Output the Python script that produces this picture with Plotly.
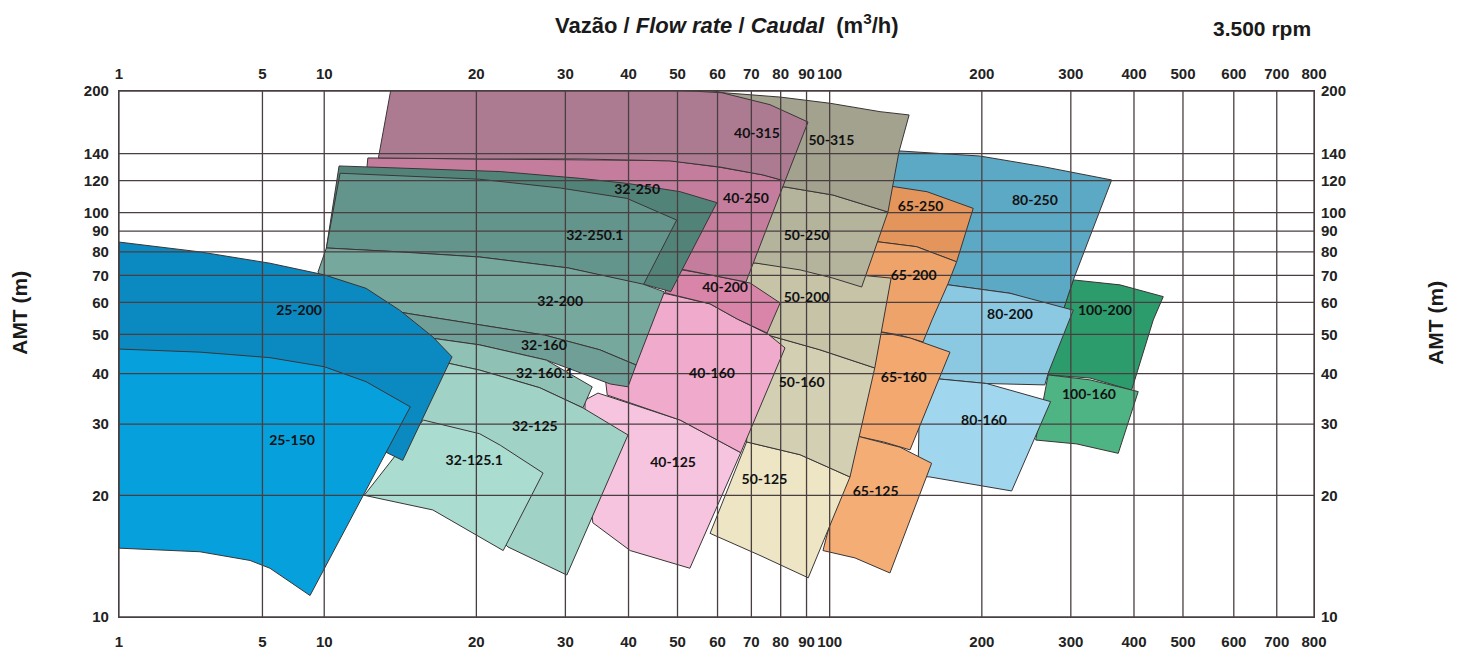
import numpy as np
import plotly.graph_objects as go

# ---------------- axis ticks ----------------
X_TICKS = [1, 5, 10, 20, 30, 40, 50, 60, 70, 80, 90, 100, 200, 300, 400, 500, 600, 700, 800]
Y_TICKS = [10, 20, 30, 40, 50, 60, 70, 80, 90, 100, 120, 140, 200]

# flow-rate scale of the chart: logarithmic, first decade compressed, top end stretched
WARP_BREAKS = [1, 10, 500, 800]
WARP_WEIGHTS = [0.406, 1.0, 1.27]


def warp(q):
    lq = np.log10(np.asarray(q, dtype=float))
    u = np.zeros_like(lq)
    for a, b, w in zip(WARP_BREAKS[:-1], WARP_BREAKS[1:], WARP_WEIGHTS):
        la, lb = np.log10(a), np.log10(b)
        u += w * (np.clip(lq, la, lb) - la)
    return u


# ---------------- pump coverage regions (flow m3/h, head m) ----------------
Q_25_150 = [1, 2.48, 5.44, 10.0, 12.1, 14.8, 8.53, 5.44, 4.35, 2.48, 1]
H_25_150 = [46.0, 45.2, 43.8, 41.6, 38.2, 33.1, 11.3, 13.2, 13.8, 14.5, 14.8]

Q_25_200 = [1, 2.48, 5.44, 10.0, 12.1, 14.1, 16.4, 17.9, 14.3, 13.3, 10.3, 4.35, 1]
H_25_200 = [84.6, 80.0, 75.0, 70.2, 65.0, 57.4, 49.3, 44.0, 24.4, 25.5, 29.0, 31.6, 33.4]

Q_32_250 = [10.7, 15.5, 22.3, 32.1, 39.7, 50.6, 59.8, 48.5, 42.7, 30.4, 20.3, 14.1, 10.1]
H_32_250 = [130.5, 128.3, 126.4, 121.6, 118.2, 112.7, 105.9, 63.8, 66.6, 73.0, 77.7, 80.0, 81.8]

Q_32_250_1 = [10.75, 15.5, 20.3, 29.3, 39.7, 49.8, 42.8, 30.4, 20.3, 14.1, 10.1]
H_32_250_1 = [125.2, 122.6, 121.0, 115.1, 108.5, 95.9, 66.3, 73.0, 77.7, 80.0, 81.8]

Q_32_200 = [10.1, 14.1, 20.3, 30.4, 42.7, 47.1, 41.4, 35.1, 27.3, 20.3, 14.8, 10.3, 9.33]
H_32_200 = [81.8, 80.0, 77.7, 73.0, 66.6, 63.7, 42.0, 45.8, 49.8, 52.8, 56.2, 60.8, 71.4]

Q_32_160 = [10.3, 14.8, 20.3, 27.3, 35.1, 41.4, 39.9, 36.8, 27.5, 20.3, 14.8, 10.3]
H_32_160 = [60.8, 56.2, 52.8, 49.8, 45.8, 42.0, 37.1, 37.7, 43.2, 47.1, 49.8, 53.7]

Q_32_160_1 = [10.3, 14.8, 20.3, 27.5, 33.9, 32.5, 26.7, 20.3, 14.8, 10.3]
H_32_160_1 = [53.7, 49.8, 47.1, 43.2, 37.1, 32.9, 36.9, 40.8, 44.5, 48.4]

Q_32_125 = [14.8, 20.3, 26.7, 32.5, 39.9, 30.2, 23.1, 21.3, 17.7, 15.5, 14.4]
H_32_125 = [44.5, 40.8, 36.9, 32.9, 28.2, 12.7, 14.9, 16.4, 18.9, 21.8, 34.4]

Q_32_125_1 = [15.7, 19.1, 20.3, 22.3, 27.1, 22.6, 16.4, 12.0]
H_32_125_1 = [30.7, 29.0, 28.4, 26.6, 22.7, 14.6, 18.4, 20.0]

Q_40_315 = [13.6, 22.3, 35.1, 61.2, 76.2, 90.6, 81.6, 73.8, 60.7, 48.3, 32.1, 20.3, 12.8]
H_40_315 = [207, 208, 206, 198, 185, 167.6, 119.8, 124.0, 129.7, 134.3, 135.8, 135.8, 136.6]

Q_40_250 = [12.2, 20.3, 32.1, 48.3, 60.7, 73.8, 81.6, 68.3, 58.0, 50.6, 35.1, 20.3, 11.8]
H_40_250 = [136.6, 135.8, 135.6, 134.5, 129.5, 124.0, 119.8, 67.4, 70.2, 72.6, 78.6, 85.6, 89.6]

Q_40_200 = [46.2, 58.0, 69.6, 79.8, 75.2, 65.6, 58.0, 47.4]
H_40_200 = [73.8, 70.2, 67.0, 59.8, 50.4, 54.6, 59.5, 63.3]

Q_40_160 = [43.1, 47.9, 58.0, 65.6, 75.5, 81.6, 66.7, 50.6, 36.3, 35.1]
H_40_160 = [64.4, 62.9, 59.5, 54.6, 50.1, 46.3, 25.5, 30.7, 35.4, 51.3]

Q_40_125 = [34.8, 50.6, 66.7, 52.9, 40.3, 34.0, 32.8, 32.8]
H_40_125 = [35.8, 30.7, 25.5, 13.2, 14.6, 17.1, 24.4, 34.4]

Q_50_315 = [55.4, 61.2, 79.8, 100.2, 125.8, 143.6, 137.1, 130.4, 101.5, 81.6, 55.4]
H_50_315 = [203.4, 198.2, 193.2, 186.5, 177.8, 174.5, 141.3, 100.4, 110.6, 115.8, 117.1]

Q_50_250 = [72.8, 81.6, 101.5, 130.4, 115.7, 101.5, 87.4, 71.2, 66.5]
H_50_250 = [117.1, 115.8, 110.6, 100.4, 65.5, 68.9, 72.2, 75.1, 75.1]

Q_50_200 = [66.5, 71.2, 87.4, 109.7, 132.3, 122.8, 95.7, 75.5, 66.5]
H_50_200 = [75.1, 75.1, 73.0, 70.5, 68.9, 41.3, 45.8, 49.8, 54.3]

Q_50_160 = [69.6, 75.5, 95.7, 122.8, 109.7, 87.4, 68.5]
H_50_160 = [50.4, 49.8, 45.8, 41.3, 22.2, 25.2, 27.1]

Q_50_125 = [68.5, 87.4, 109.7, 90.7, 72.8, 58.0]
H_50_125 = [27.1, 25.2, 22.2, 12.5, 14.2, 16.1]

Q_65_250 = [131.6, 155.8, 192.3, 178.3, 148.6, 123.9]
H_65_250 = [116.4, 112.7, 102.5, 75.6, 82.4, 84.8]

Q_65_200 = [123.9, 148.6, 178.3, 171.6, 159.4, 153.0, 137.8, 120.2, 114.8, 119.0]
H_65_200 = [84.8, 82.4, 75.6, 66.9, 54.3, 47.9, 49.8, 51.3, 51.3, 84.6]

Q_65_160 = [120.2, 144.2, 173.0, 144.2, 127.8, 114.8, 109.7, 112.2]
H_65_160 = [51.3, 49.0, 45.2, 25.9, 27.1, 27.9, 27.9, 51.3]

Q_65_125 = [111.2, 137.8, 159.1, 131.6, 112.2, 97.0]
H_65_125 = [28.2, 26.3, 24.0, 12.85, 14.0, 14.6]

Q_80_250 = [128.7, 198.3, 264.2, 361.3, 303.4, 289.8, 227.4, 171.6, 161.6, 125.8]
H_80_250 = [142.9, 138.1, 130.0, 120.5, 68.2, 57.4, 63.2, 66.3, 66.3, 107.5]

Q_80_200 = [161.6, 227.4, 303.4, 270.6, 266.5, 204.4, 150.9, 147.5, 154.4]
H_80_200 = [67.0, 63.2, 57.4, 40.1, 37.5, 37.8, 39.2, 47.1, 64.4]

Q_80_160 = [150.9, 204.4, 273.6, 229.1, 157.9, 149.5]
H_80_160 = [39.2, 37.8, 34.1, 20.5, 22.2, 22.3]

Q_100_200 = [303.4, 375.2, 457.1, 436.7, 395.7, 327.3, 270.4, 289.8]
H_100_200 = [68.2, 66.3, 62.0, 54.3, 36.4, 39.0, 39.7, 57.4]

Q_100_160 = [270.6, 327.3, 407.8, 372.3, 308.1, 255.6]
H_100_160 = [39.7, 38.6, 36.1, 25.4, 26.8, 27.4]

# ---------------- region labels ----------------
LABEL_NAMES = ["25-200", "25-150", "32-250", "32-250.1", "32-200", "32-160", "32-160.1",
               "32-125", "32-125.1", "40-315", "40-250", "40-200", "40-160", "40-125",
               "50-315", "50-250", "50-200", "50-160", "50-125", "65-250", "65-200",
               "65-160", "65-125", "80-250", "80-200", "80-160", "100-200", "100-160"]
LABEL_Q = [7.54, 6.97, 41.6, 34.3, 29.3, 27.2, 27.3, 26.1, 19.8, 71.8, 68.3, 62.1, 58.5, 49.0,
           100.8, 90.0, 90.0, 88.0, 74.3, 151.3, 146.6, 140.1, 123.3, 254.7, 227.4, 202.0,
           350.4, 325.8]
LABEL_H = [57.1, 27.2, 113.2, 87.5, 59.8, 46.8, 39.9, 29.5, 24.2, 155.7, 108.1, 65.1, 39.7, 24.0,
           149.6, 87.5, 61.2, 37.9, 21.7, 103.3, 69.7, 39.0, 20.3, 106.3, 55.8, 30.5, 57.1, 35.4]

# ---------------- drawing order (back to front) and styles ----------------
REGIONS = [
    ("100-200", Q_100_200, H_100_200), ("100-160", Q_100_160, H_100_160),
    ("80-250", Q_80_250, H_80_250), ("80-200", Q_80_200, H_80_200), ("80-160", Q_80_160, H_80_160),
    ("65-250", Q_65_250, H_65_250), ("65-200", Q_65_200, H_65_200),
    ("65-160", Q_65_160, H_65_160), ("65-125", Q_65_125, H_65_125),
    ("50-125", Q_50_125, H_50_125), ("50-160", Q_50_160, H_50_160), ("50-200", Q_50_200, H_50_200),
    ("50-250", Q_50_250, H_50_250), ("50-315", Q_50_315, H_50_315),
    ("40-125", Q_40_125, H_40_125), ("40-160", Q_40_160, H_40_160), ("40-200", Q_40_200, H_40_200),
    ("40-250", Q_40_250, H_40_250), ("40-315", Q_40_315, H_40_315),
    ("32-250", Q_32_250, H_32_250), ("32-250.1", Q_32_250_1, H_32_250_1),
    ("32-200", Q_32_200, H_32_200), ("32-160", Q_32_160, H_32_160), ("32-160.1", Q_32_160_1, H_32_160_1),
    ("32-125", Q_32_125, H_32_125), ("32-125.1", Q_32_125_1, H_32_125_1),
    ("25-200", Q_25_200, H_25_200), ("25-150", Q_25_150, H_25_150),
]

COLORS = {
    "25-200": "#0b89c1", "25-150": "#06a1dd",
    "32-250": "#528379", "32-250.1": "#63958c", "32-200": "#76a89e", "32-160": "#6f9f96",
    "32-160.1": "#8fc1b5", "32-125": "#a0d2c6", "32-125.1": "#aadccf",
    "40-315": "#ad7b91", "40-250": "#c47d9d", "40-200": "#d985aa", "40-160": "#f0aacb",
    "40-125": "#f6c4de",
    "50-315": "#a2a28f", "50-250": "#b4b39c", "50-200": "#c6c3a7", "50-160": "#d3cfb2",
    "50-125": "#ede5c3",
    "65-250": "#e3955c", "65-200": "#eea36b", "65-160": "#f3a86f", "65-125": "#f5ad76",
    "80-250": "#5ba9c5", "80-200": "#8bc9e2", "80-160": "#a0d6ee",
    "100-200": "#2c9c6c", "100-160": "#4eb484",
}
EDGE = "#3a3536"
GRID = "#4a3f40"
FONT_AX = "Liberation Sans Narrow, Arial Narrow, Liberation Sans, Arial, sans-serif"

fig = go.Figure()

for name, q, h in REGIONS:
    fig.add_trace(go.Scatter(
        x=list(warp(q)) + [warp(q[0])], y=list(h) + [h[0]],
        mode="lines", fill="toself", fillcolor=COLORS[name],
        line=dict(color=EDGE, width=1), hoverinfo="text", text=name,
        showlegend=False))

# grid lines drawn above the regions
gx, gy = [], []
for t in X_TICKS:
    gx += [float(warp(t)), float(warp(t)), None]
    gy += [Y_TICKS[0], Y_TICKS[-1], None]
for t in Y_TICKS:
    gx += [float(warp(X_TICKS[0])), float(warp(X_TICKS[-1])), None]
    gy += [t, t, None]
fig.add_trace(go.Scatter(x=gx, y=gy, mode="lines", line=dict(color=GRID, width=1.3),
                         hoverinfo="skip", showlegend=False, xaxis="x2", yaxis="y2"))

fig.add_trace(go.Scatter(
    x=warp(LABEL_Q), y=LABEL_H, mode="text", text=LABEL_NAMES,
    textfont=dict(family="Lato, Open Sans, sans-serif", size=14, color="#111111", weight="bold"),
    hoverinfo="skip", showlegend=False, xaxis="x2", yaxis="y2"))

xr = [float(warp(X_TICKS[0])), float(warp(X_TICKS[-1]))]
yr = [np.log10(Y_TICKS[0]), np.log10(Y_TICKS[-1])]
tickv = [float(v) for v in warp(X_TICKS)]
tickt = [str(t) for t in X_TICKS]
tfont = dict(family=FONT_AX, size=15, color="#222222", weight="bold")

fig.update_layout(
    width=1464, height=664,
    margin=dict(l=111, r=158, t=83, b=55),
    paper_bgcolor="white", plot_bgcolor="white",
    title=dict(text="<b>Vazão / <i>Flow rate</i> / <i>Caudal</i>  (m<sup>3</sup>/h)</b>",
               x=0.491, xanchor="center", y=0.974, yanchor="middle", yref="container",
               font=dict(family=FONT_AX, size=22, color="#1a1a1a")),
    xaxis=dict(type="linear", range=xr, tickmode="array", tickvals=tickv, ticktext=tickt,
               showgrid=False, zeroline=False, showline=True, linecolor=GRID, linewidth=1.3,
               mirror=True, ticks="", tickfont=tfont, ticklabelstandoff=11),
    xaxis2=dict(type="linear", range=xr, overlaying="x", side="top", tickmode="array",
                tickvals=tickv, ticktext=tickt, showgrid=False, zeroline=False,
                showline=False, ticks="", tickfont=tfont, ticklabelstandoff=8),
    yaxis=dict(type="log", range=yr, tickmode="array", tickvals=Y_TICKS,
               ticktext=[str(t) for t in Y_TICKS], showgrid=False, zeroline=False,
               showline=True, linecolor=GRID, linewidth=1.3, mirror=True, ticks="",
               tickfont=tfont, ticklabelstandoff=6),
    yaxis2=dict(type="log", range=yr, overlaying="y", side="right", tickmode="array",
                tickvals=Y_TICKS, ticktext=[str(t) for t in Y_TICKS], showgrid=False,
                zeroline=False, showline=False, ticks="", tickfont=tfont,
                ticklabelstandoff=6),
    annotations=[
        dict(text="<b>3.500 rpm</b>", xref="paper", yref="paper", x=0.9565, y=1.118,
             xanchor="center", yanchor="middle", showarrow=False,
             font=dict(family=FONT_AX, size=21, color="#1a1a1a")),
        dict(text="<b>AMT (m)</b>", xref="paper", yref="paper", x=-0.083, y=0.578,
             xanchor="center", yanchor="middle", textangle=-90, showarrow=False,
             font=dict(family=FONT_AX, size=21, color="#1a1a1a")),
        dict(text="<b>AMT (m)</b>", xref="paper", yref="paper", x=1.102, y=0.559,
             xanchor="center", yanchor="middle", textangle=-90, showarrow=False,
             font=dict(family=FONT_AX, size=21, color="#1a1a1a")),
    ],
)

fig.write_html("out.html")
